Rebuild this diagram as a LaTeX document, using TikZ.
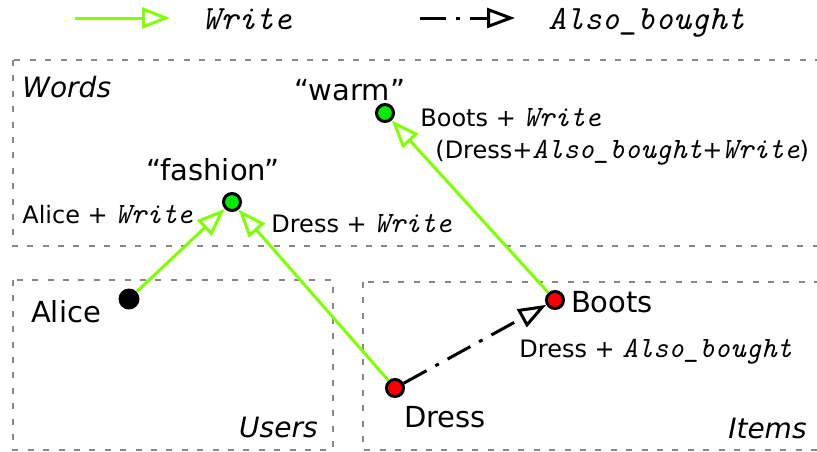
\documentclass[tikz,border=0pt]{standalone}
\usepackage{fontspec}
\setsansfont{DejaVu Sans}
\usetikzlibrary{arrows.meta}
\definecolor{writegreen}{RGB}{127,255,0}
\definecolor{wordgreen}{RGB}{0,235,0}
\definecolor{boxgray}{RGB}{136,136,136}
\newcommand{\relname}[1]{{\fontsize{14.7pt}{16pt}\ttfamily\itshape #1}}

\begin{document}
\begin{tikzpicture}[x=0.5pt,y=-0.5pt,
    groupbox/.style={draw=boxgray, line width=1.4pt, dash pattern=on 3pt off 4.7pt},
    wordnode/.style={circle, draw, line width=1.5pt, fill=wordgreen, minimum size=8.5pt, inner sep=0pt},
    itemnode/.style={wordnode, fill=red},
    usernode/.style={circle, fill=black, minimum size=10.5pt, inner sep=0pt},
    namelabel/.style={font=\sffamily\fontsize{14.5pt}{17pt}\selectfont, inner sep=0pt},
    grouplabel/.style={font=\sffamily\itshape\fontsize{14pt}{17pt}\selectfont, inner sep=0pt},
    edgelabel/.style={font=\sffamily\fontsize{12pt}{14pt}\selectfont, inner sep=0pt, anchor=base west},
    writeedge/.style={draw=writegreen, line width=1.5pt, -{Triangle[open, length=14pt, width=10.5pt]}},
    alsoedge/.style={draw=black, line width=1.5pt, dash pattern=on 13pt off 5pt on 2pt off 5pt, -{Triangle[open, length=14pt, width=10pt]}}]
  \useasboundingbox (0,0) rectangle (817,451);
  \clip (0,0) rectangle (817,451);

  % legend
  \coordinate (writeA) at (75,18);
  \coordinate (writeB) at (170,18);
  \coordinate (alsoA) at (420,18);
  \coordinate (alsoB) at (515,18);
  \draw [writeedge] (writeA) -- (writeB);
  \draw [alsoedge] (alsoA) -- (alsoB);
  \node [inner sep=0pt, anchor=base west, font=\fontsize{17pt}{19pt}\ttfamily\itshape] (writeKey) at (202,29) {Write};
  \node [inner sep=0pt, anchor=base west, font=\fontsize{17pt}{19pt}\ttfamily\itshape] (alsoKey) at (548,29) {Also\_bought};

  % groups
  \draw [groupbox] (13,60) rectangle (824,246);
  \draw [groupbox] (13,280) rectangle (333,450);
  \draw [groupbox] (363,282) rectangle (824,450);
  \node [grouplabel, anchor=base west] (wordsTitle) at (22,97) {Words};
  \node [grouplabel, anchor=base east] (usersTitle) at (318,437) {Users};
  \node [grouplabel, anchor=base east] (itemsTitle) at (807,438) {Items};

  % nodes
  \node [wordnode] (warm) at (385,113) {};
  \node [wordnode] (fashion) at (232,202) {};
  \node [usernode] (alice) at (129,299) {};
  \node [itemnode] (dress) at (395,388) {};
  \node [itemnode] (boots) at (555,300) {};

  \node [namelabel, anchor=base] (warmText) at (350,100) {“warm”};
  \node [namelabel, anchor=base] (fashionText) at (213,180) {“fashion”};
  \node [namelabel, anchor=base] (aliceText) at (66,322) {Alice};
  \node [namelabel, anchor=base] (dressText) at (445,427) {Dress};
  \node [namelabel, anchor=base] (bootsText) at (612,312) {Boots};

  % edges
  \draw [writeedge] (alice) -- (fashion);
  \draw [writeedge] (dress) -- (fashion);
  \draw [writeedge] (boots) -- (warm);
  \draw [alsoedge] (dress) -- (boots);

  \node [edgelabel] (aliceWrite) at (22,223) {Alice + \relname{Write}};
  \node [edgelabel] (dressWrite) at (271,232) {Dress + \relname{Write}};
  \node [edgelabel] (bootsWrite) at (420,126) {Boots + \relname{Write}};
  \node [edgelabel] (viaDress) at (435,158) {(Dress+\relname{Also\_bought}+\relname{Write})};
  \node [edgelabel] (dressAlso) at (519,357) {Dress + \relname{Also\_bought}};
\end{tikzpicture}
\end{document}
